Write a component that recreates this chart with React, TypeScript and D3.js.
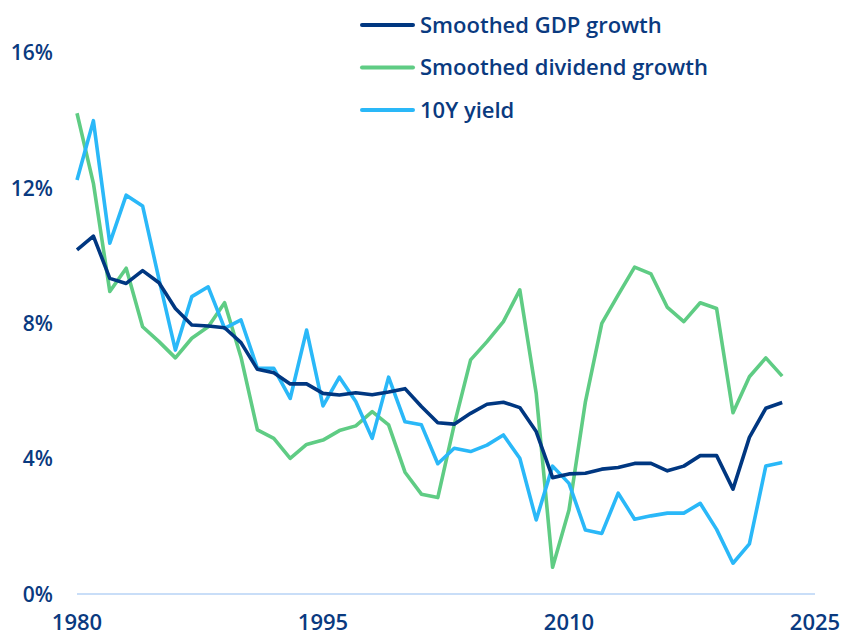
import React, { useEffect, useRef } from 'react';
import * as d3 from 'd3';

// data
const years = d3.range(1980, 2024);
const gdpGrowth = [
  10.17, 10.58, 9.33, 9.18, 9.56, 9.2, 8.44, 7.95, 7.92, 7.87,
  7.43, 6.64, 6.54, 6.21, 6.21, 5.93, 5.88, 5.95, 5.89, 5.97,
  6.07, 5.54, 5.06, 5.02, 5.34, 5.61, 5.67, 5.51, 4.8, 3.44,
  3.55, 3.57, 3.69, 3.74, 3.86, 3.86, 3.64, 3.78, 4.09, 4.09,
  3.1, 4.63, 5.49, 5.66,
];
const dividendGrowth = [
  14.21, 12.14, 8.94, 9.63, 7.9, 7.46, 6.98, 7.56, 7.9, 8.61,
  7.0, 4.85, 4.6, 4.01, 4.42, 4.55, 4.83, 4.97, 5.39, 5.0,
  3.6, 2.95, 2.85, 5.0, 6.92, 7.46, 8.05, 8.99, 5.93, 0.79,
  2.48, 5.68, 8.0, 8.84, 9.66, 9.46, 8.47, 8.05, 8.61, 8.44,
  5.36, 6.42, 6.98, 6.44,
];
const yield10y = [
  12.24, 13.99, 10.37, 11.79, 11.47, 9.3, 7.21, 8.79, 9.08, 7.85,
  8.1, 6.67, 6.67, 5.78, 7.8, 5.56, 6.41, 5.69, 4.6, 6.41,
  5.09, 5.0, 3.85, 4.31, 4.21, 4.4, 4.7, 4.01, 2.19, 3.78,
  3.27, 1.89, 1.79, 2.98, 2.21, 2.31, 2.39, 2.39, 2.68, 1.91,
  0.91, 1.48, 3.78, 3.89,
];
const xTicks = [1980, 1995, 2010, 2025];
const yTicks = [0, 4, 8, 12, 16];
const seriesNames = ['Smoothed GDP growth', 'Smoothed dividend growth', '10Y yield'];
const seriesColors = ['#003781', '#5fcc84', '#2ab8f8'];

const FONT = "'Open Sans', Lato, sans-serif";
const TEXT_COLOR = '#0a3a80';

export default function App() {
  const ref = useRef<SVGSVGElement>(null);

  useEffect(() => {
    draw();
    // eslint-disable-next-line react-hooks/exhaustive-deps
  }, []);

  function draw() {
    const svg = d3.select(ref.current);
    svg.selectAll('*').remove();

    const xScale = d3.scaleLinear().domain([1980, 2025]).range([77, 815]);
    const yScale = d3.scaleLinear().domain([0, 16]).range([594, 52.7]);

    // baseline
    svg
      .append('line')
      .attr('x1', xScale(1980))
      .attr('x2', xScale(2025))
      .attr('y1', yScale(0))
      .attr('y2', yScale(0))
      .attr('stroke', '#c9def8')
      .attr('stroke-width', 2);

    // y labels
    svg
      .selectAll('.y-label')
      .data(yTicks)
      .join('text')
      .attr('class', 'y-label')
      .attr('x', 53)
      .attr('y', (d) => yScale(d))
      .attr('dy', '0.36em')
      .attr('text-anchor', 'end')
      .attr('font-family', FONT)
      .attr('font-weight', 600)
      .attr('font-size', 21)
      .attr('fill', TEXT_COLOR)
      .text((d) => `${d}%`);

    // x labels
    svg
      .selectAll('.x-label')
      .data(xTicks)
      .join('text')
      .attr('class', 'x-label')
      .attr('x', (d) => xScale(d))
      .attr('y', 630)
      .attr('text-anchor', 'middle')
      .attr('font-family', FONT)
      .attr('font-weight', 600)
      .attr('font-size', 22)
      .attr('fill', TEXT_COLOR)
      .text((d) => d);

    const series = [gdpGrowth, dividendGrowth, yield10y];
    const line = d3
      .line<number>()
      .x((_, i) => xScale(years[i]))
      .y((d) => yScale(d));

    // draw order: dividend, yield, gdp on top
    [1, 2, 0].forEach((k) => {
      svg
        .append('path')
        .datum(series[k])
        .attr('d', line)
        .attr('fill', 'none')
        .attr('stroke', seriesColors[k])
        .attr('stroke-width', 3.6)
        .attr('stroke-linejoin', 'round');
    });

    // legend
    const legend = svg.append('g').attr('transform', 'translate(362,25)');
    const item = legend
      .selectAll('g')
      .data(seriesNames)
      .join('g')
      .attr('transform', (_, i) => `translate(0,${i * 42.5})`);
    item
      .append('line')
      .attr('x1', 0)
      .attr('x2', 51)
      .attr('stroke', (_, i) => seriesColors[i])
      .attr('stroke-width', 4)
      .attr('stroke-linecap', 'round');
    item
      .append('text')
      .attr('x', 58)
      .attr('dy', '0.36em')
      .attr('font-family', FONT)
      .attr('font-weight', 600)
      .attr('font-size', 22)
      .attr('fill', TEXT_COLOR)
      .text((d) => d);
  }

  return <svg ref={ref} width={842} height={635} style={{ position: 'absolute', left: 0, top: 0, background: '#fff' }} />;
}
